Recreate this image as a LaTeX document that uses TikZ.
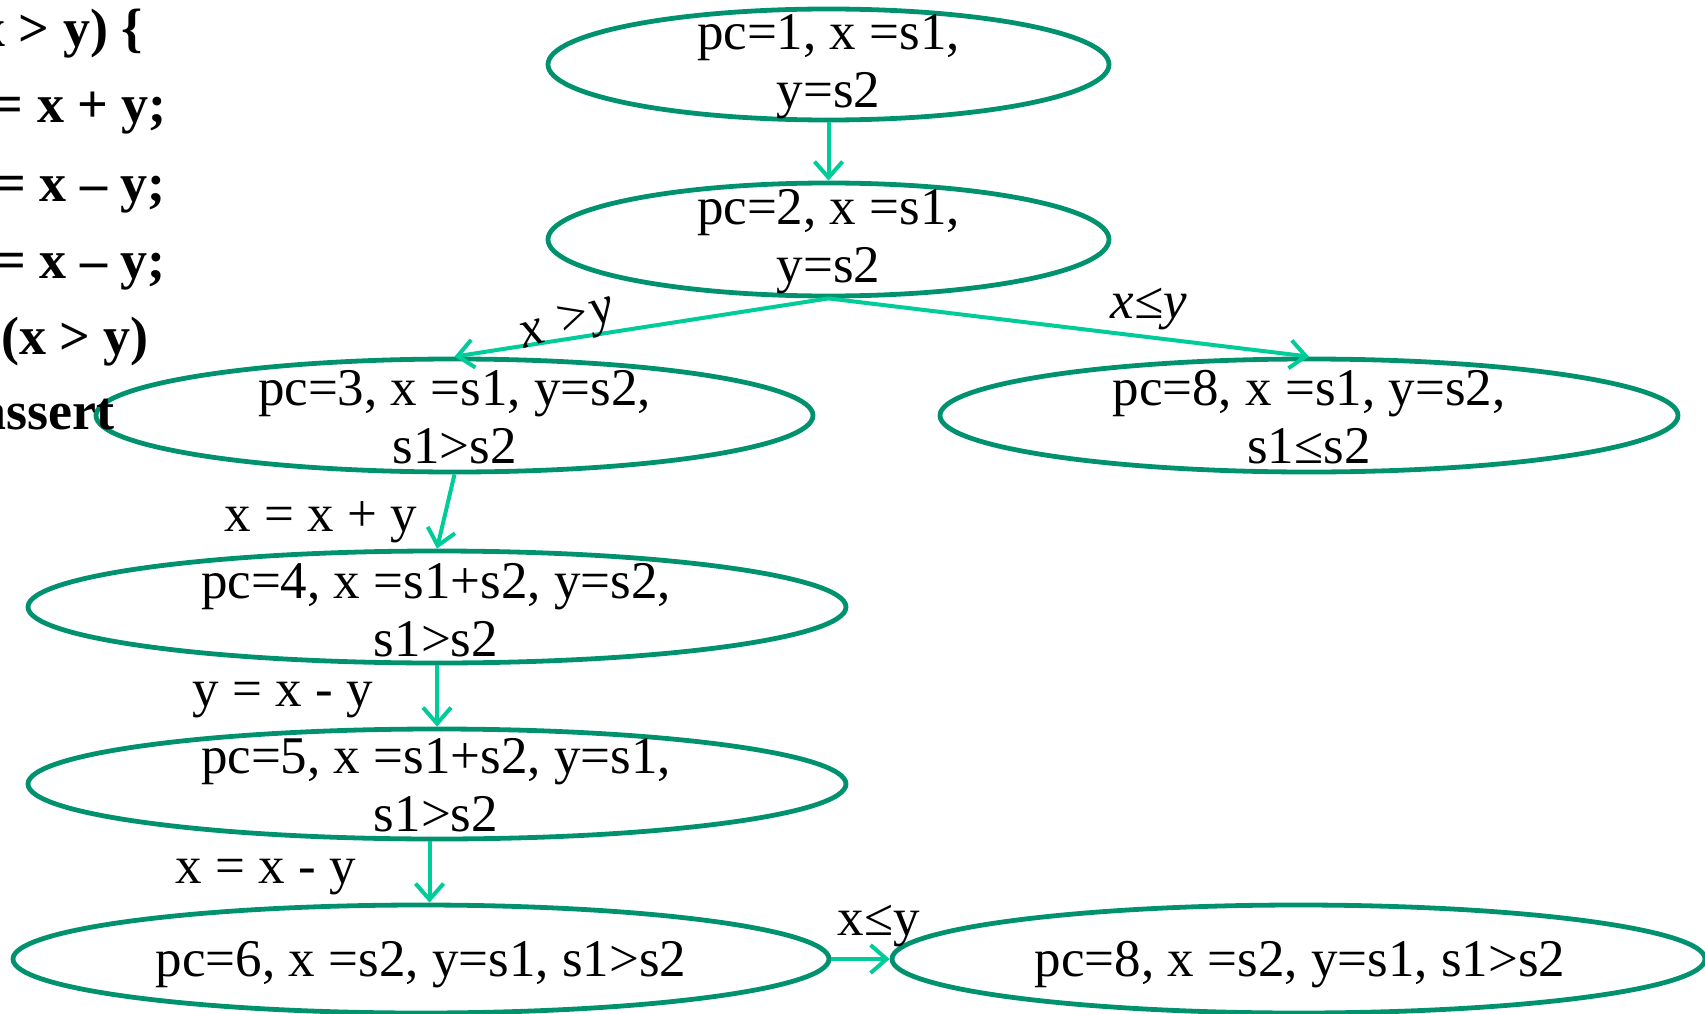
\documentclass[tikz,border=0pt]{standalone}
\usepackage{fontspec}
\setmainfont{Liberation Serif}
\usetikzlibrary{shapes.geometric,arrows.meta}
\definecolor{ringc}{RGB}{0,146,110}
\definecolor{arrc}{RGB}{0,204,153}
\begin{document}
\begin{tikzpicture}[x=1pt,y=-1pt,
 state/.style={ellipse, draw=ringc, line width=4.8pt, inner sep=0pt},
 stext/.style={font=\fontsize{53}{58}\selectfont, align=center, inner sep=0pt},
 arr/.style={draw=arrc, line width=4pt, -{Straight Barb[length=16pt,width=28pt]}},
 lbl/.style={font=\fontsize{53}{58}\selectfont, inner sep=0pt},
 codeline/.style={font=\fontsize{54}{58}\selectfont\bfseries, anchor=east, inner sep=0pt}]
\useasboundingbox (0,0) rectangle (1705,1014);

% states
\node[state, minimum width=561pt, minimum height=111pt] (E1) at (828.5,64.5) {};
\node[state, minimum width=561pt, minimum height=113pt] (E2) at (828.5,239.5) {};
\node[state, minimum width=717pt, minimum height=113pt] (E3) at (454.5,415.5) {};
\node[state, minimum width=738pt, minimum height=113pt] (E4) at (1309,415.5) {};
\node[state, minimum width=818pt, minimum height=112pt] (E5) at (437,607) {};
\node[state, minimum width=818pt, minimum height=110pt] (E6) at (437,784) {};
\node[state, minimum width=816pt, minimum height=108pt] (E7) at (421,959) {};
\node[state, minimum width=813pt, minimum height=108pt] (E8) at (1298.5,959) {};

\node[stext] (T1) at (828.5,67) {pc=1, x =s1,\\y=s2};
\node[stext] (T2) at (828.5,242) {pc=2, x =s1,\\y=s2};
\node[stext] (T3) at (454.5,417) {pc=3, x =s1, y=s2,\\s1>s2};
\node[stext] (T4) at (1309,417) {pc=8, x =s1, y=s2,\\s1≤s2};
\node[stext] (T5) at (436,610) {pc=4, x =s1+s2, y=s2,\\s1>s2};
\node[stext] (T6) at (436,785) {pc=5, x =s1+s2, y=s1,\\s1>s2};
\node[stext] (T7) at (421,965) {pc=6, x =s2, y=s1, s1>s2};
\node[stext] (T8) at (1300,965) {pc=8, x =s2, y=s1, s1>s2};

% code fragment
\node[codeline] (C1) at (143,34) {x > y) \{};
\node[codeline] (C2) at (167,113) {= x + y;};
\node[codeline] (C3) at (166,195) {= x – y;};
\node[codeline] (C4) at (166,272) {= x – y;};
\node[codeline] (C5) at (149,342) {(x > y)};
\node[codeline] (C6) at (115,415) {assert};

% connectors
\draw[arr] (E1.south) -- (E2.north);
\draw[arr] (E2.south) -- (E3.north);
\draw[arr] (E2.south) -- (E4.north);
\draw[arr] (E3.south) -- (E5.north);
\draw[arr] (E5.south) -- (E6.north);
\draw[arr] ([xshift=-7.5pt]E6.south) -- ([xshift=8.5pt]E7.north);
\draw[arr] (E7.east) -- (E8.west);

% connector labels
\node[lbl, rotate=17] (L1) at (568,325) {\textit{x >y}};
\node[lbl] (L2) at (1149,309) {\textit{x≤y}};
\node[lbl] (L3) at (321,522) {x = x + y};
\node[lbl] (L4) at (283,700) {y = x - y};
\node[lbl] (L5) at (266,877) {x = x - y};
\node[lbl] (L6) at (879,926) {x≤y};
\end{tikzpicture}
\end{document}
